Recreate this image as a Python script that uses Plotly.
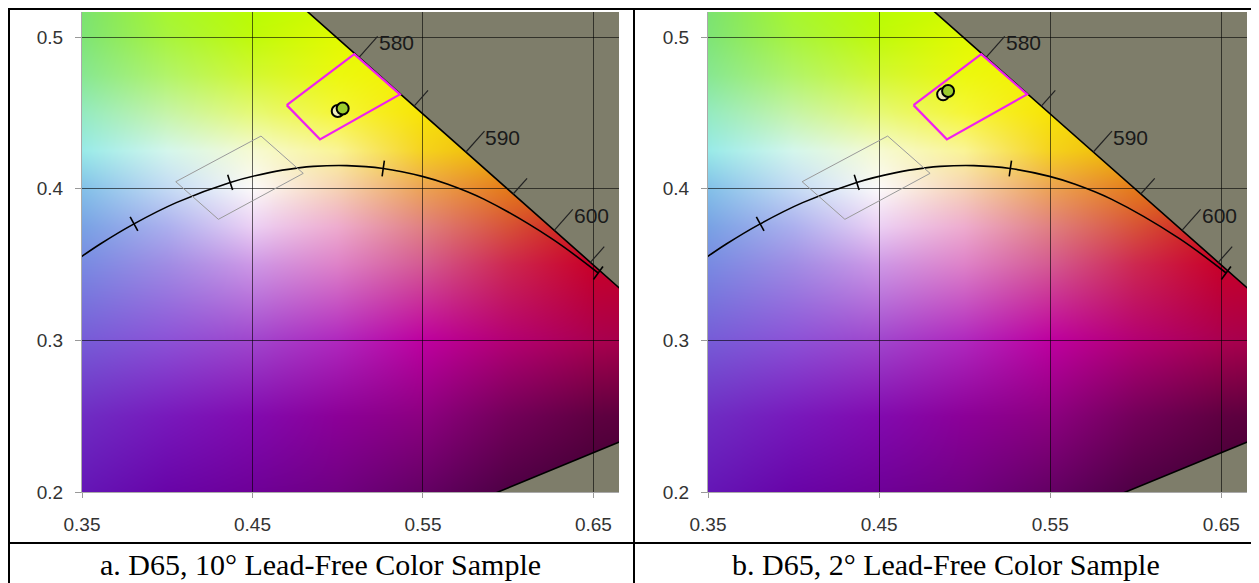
import zlib, struct, base64
import numpy as np
import plotly.graph_objects as go

# ---------------- data ----------------
SPEC_NM = [560, 565, 570, 575, 580, 585, 590, 595, 600, 605, 610, 615, 620, 630, 640, 650, 700]
SPEC_X = [0.3731, 0.4087, 0.4441, 0.4788, 0.5125, 0.5448, 0.5752, 0.6029, 0.6270, 0.6482,
          0.6658, 0.6801, 0.6915, 0.7079, 0.7190, 0.7260, 0.7347]
SPEC_Y = [0.6245, 0.5896, 0.5547, 0.5202, 0.4866, 0.4544, 0.4242, 0.3965, 0.3725, 0.3514,
          0.3340, 0.3197, 0.3083, 0.2920, 0.2809, 0.2740, 0.2653]
PURPLE_END_X = 0.1741
PURPLE_END_Y = 0.0050
SPEC_LABELLED = [580, 590, 600]
SPEC_TICKED = [585, 595, 605]

PLANCK_T = [5000, 4500, 4000, 3500, 3000, 2700, 2500, 2400, 2200, 2000, 1800, 1667, 1500, 1200, 1000]
PLANCK_X = [0.3451, 0.3607, 0.3805, 0.4053, 0.4369, 0.4599, 0.4770, 0.4857, 0.5054, 0.5267,
            0.5496, 0.5646, 0.5857, 0.6251, 0.6528]
PLANCK_Y = [0.3516, 0.3635, 0.3768, 0.3908, 0.4041, 0.4106, 0.4137, 0.4147, 0.4152, 0.4133,
            0.4081, 0.4029, 0.3931, 0.3674, 0.3444]
PLANCK_TICK_T = [4000, 3000, 2000, 1000]

BOX_X = [0.4701, 0.5097, 0.5365, 0.4896]
BOX_Y = [0.4551, 0.4887, 0.4622, 0.4325]
QUAD_X = [0.4050, 0.4550, 0.4798, 0.4300]
QUAD_Y = [0.4046, 0.4347, 0.4101, 0.3798]

A_SAMPLE_X = [0.5000, 0.5029]
A_SAMPLE_Y = [0.4512, 0.4529]
B_SAMPLE_X = [0.4874, 0.4903]
B_SAMPLE_Y = [0.4622, 0.4644]

X_TICKS = [0.35, 0.45, 0.55, 0.65]
Y_TICKS = [0.2, 0.3, 0.4, 0.5]
CAPTIONS = ["a. D65, 10\u00b0 Lead-Free Color Sample", "b. D65, 2\u00b0 Lead-Free Color Sample"]

BG_X = [0.35, 0.40, 0.45, 0.50, 0.55, 0.60, 0.65, 0.70]
BG_Y = [0.525, 0.50, 0.475, 0.45, 0.425, 0.40, 0.375, 0.35, 0.30, 0.25, 0.20]
BG_COLORS = [
    [(122, 225, 110), (165, 248, 40), (182, 252, 0), (205, 250, 0), (225, 245, 0), (235, 235, 0), (240, 225, 0), (240, 215, 0)],
    [(126, 228, 118), (168, 244, 62), (192, 250, 10), (225, 250, 0), (240, 245, 0), (245, 230, 0), (245, 215, 0), (245, 200, 0)],
    [(135, 231, 145), (178, 244, 105), (210, 248, 50), (236, 248, 15), (245, 240, 0), (245, 220, 0), (245, 200, 0), (245, 190, 0)],
    [(148, 234, 192), (198, 244, 168), (230, 249, 118), (246, 246, 55), (247, 228, 5), (242, 205, 0), (240, 185, 0), (238, 170, 0)],
    [(152, 234, 232), (212, 246, 236), (246, 250, 210), (250, 244, 150), (245, 210, 30), (238, 180, 0), (235, 160, 0), (232, 145, 0)],
    [(130, 192, 232), (195, 218, 244), (252, 250, 250), (246, 210, 180), (236, 162, 85), (228, 122, 25), (222, 100, 0), (220, 90, 0)],
    [(120, 162, 228), (172, 176, 238), (236, 208, 244), (238, 172, 206), (224, 128, 128), (215, 82, 55), (205, 20, 20), (200, 15, 20)],
    [(120, 138, 226), (160, 140, 228), (206, 152, 230), (222, 130, 200), (212, 90, 145), (205, 40, 80), (200, 0, 40), (190, 0, 40)],
    [(118, 92, 215), (140, 82, 215), (160, 70, 205), (176, 40, 190), (190, 0, 160), (180, 0, 115), (170, 0, 80), (160, 0, 65)],
    [(110, 45, 195), (120, 25, 188), (130, 10, 175), (140, 0, 152), (140, 0, 128), (115, 0, 90), (95, 0, 65), (85, 0, 55)],
    [(100, 22, 182), (104, 4, 168), (110, 0, 152), (112, 0, 130), (100, 0, 100), (78, 0, 68), (62, 0, 52), (55, 0, 45)],
]
OUTSIDE_RGB = (126, 125, 106)

# ---------------- geometry (screen pixels of the reference, page has an 8px body margin) ----------------
FIG_W, FIG_H = 1259, 583
OFF = 8
XR = [0.35, 0.665]
YR = [0.2, 0.5165]
XDOM_A = [(82 - OFF) / FIG_W, (619 - OFF) / FIG_W]
XDOM_B = [(708 - OFF) / FIG_W, (1247 - OFF) / FIG_W]
YDOM = [1 - (492 - OFF) / FIG_H, 1 - (12 - OFF) / FIG_H]
SX = (XDOM_A[1] - XDOM_A[0]) * FIG_W / (XR[1] - XR[0])
SY = (YDOM[1] - YDOM[0]) * FIG_H / (YR[1] - YR[0])


def background_png():
    w, h = 540, 480
    xg = XR[0] + (np.arange(w) + 0.5) * (XR[1] - XR[0]) / w
    yg = YR[1] - (np.arange(h) + 0.5) * (YR[1] - YR[0]) / h
    X, Y = np.meshgrid(xg, yg)
    xs = np.array(BG_X)
    ys = np.array(BG_Y)[::-1]
    C = np.array(BG_COLORS, float)[::-1]
    fx = np.interp(X, xs, np.arange(len(xs)))
    fy = np.interp(Y, ys, np.arange(len(ys)))
    x0 = np.clip(np.floor(fx).astype(int), 0, len(xs) - 2)
    y0 = np.clip(np.floor(fy).astype(int), 0, len(ys) - 2)
    tx = (fx - x0)[..., None]
    ty = (fy - y0)[..., None]
    col = (C[y0, x0] * (1 - tx) * (1 - ty) + C[y0, x0 + 1] * tx * (1 - ty)
           + C[y0 + 1, x0] * (1 - tx) * ty + C[y0 + 1, x0 + 1] * tx * ty)
    xloc = np.interp(Y, np.array(SPEC_Y)[::-1], np.array(SPEC_X)[::-1])
    ypur = PURPLE_END_Y + (X - PURPLE_END_X) * (SPEC_Y[-1] - PURPLE_END_Y) / (SPEC_X[-1] - PURPLE_END_X)
    inside = (X < xloc) & (Y > ypur)
    col[~inside] = OUTSIDE_RGB
    rgb = np.ascontiguousarray(np.clip(np.round(col), 0, 255).astype(np.uint8))
    raw = b''.join(b'\x00' + rgb[r].tobytes() for r in range(h))

    def chunk(tag, data):
        return struct.pack('>I', len(data)) + tag + data + struct.pack('>I', zlib.crc32(tag + data) & 0xffffffff)
    png = (b'\x89PNG\r\n\x1a\n' + chunk(b'IHDR', struct.pack('>IIBBBBB', w, h, 8, 2, 0, 0, 0))
           + chunk(b'IDAT', zlib.compress(raw, 9)) + chunk(b'IEND', b''))
    return 'data:image/png;base64,' + base64.b64encode(png).decode()


BG_URI = background_png()
fig = go.Figure()


def normal_px(xs, ys, i):
    i0 = max(i - 1, 0)
    i1 = min(i + 1, len(xs) - 1)
    tx = (xs[i1] - xs[i0]) * SX
    ty = -(ys[i1] - ys[i0]) * SY
    n = np.hypot(tx, ty)
    return ty / n, -tx / n


def add_panel(xa, ya, sample_x, sample_y):
    kw = dict(xaxis=xa, yaxis=ya, showlegend=False, hoverinfo='skip')
    fig.add_trace(go.Scatter(x=SPEC_X + [PURPLE_END_X], y=SPEC_Y + [PURPLE_END_Y], mode='lines',
                             line=dict(color='black', width=1.6), **kw))
    tx, ty = [], []
    for nm in SPEC_TICKED + SPEC_LABELLED:
        i = SPEC_NM.index(nm)
        nx, ny = normal_px(SPEC_X, SPEC_Y, i)
        L = 28 if nm in SPEC_LABELLED else 21
        ex, ey = SPEC_X[i] + nx * L / SX, SPEC_Y[i] - ny * L / SY
        tx += [SPEC_X[i], ex, None]
        ty += [SPEC_Y[i], ey, None]
        if nm in SPEC_LABELLED:
            fig.add_annotation(x=ex, y=ey, xref=xa, yref=ya, text=str(nm), showarrow=False,
                               xanchor='left', yanchor='middle', xshift=-1, yshift=-6,
                               font=dict(family='Liberation Sans, Arial', size=21, color='#1a1a1a'))
    fig.add_trace(go.Scatter(x=tx, y=ty, mode='lines', line=dict(color='#222', width=1.2), **kw))
    fig.add_trace(go.Scatter(x=PLANCK_X, y=PLANCK_Y, mode='lines',
                             line=dict(color='black', width=1.6, shape='spline'), **kw))
    px_, py_ = [], []
    for T in PLANCK_TICK_T:
        i = PLANCK_T.index(T)
        nx, ny = normal_px(PLANCK_X, PLANCK_Y, i)
        h = 8
        px_ += [PLANCK_X[i] - nx * h / SX, PLANCK_X[i] + nx * h / SX, None]
        py_ += [PLANCK_Y[i] + ny * h / SY, PLANCK_Y[i] - ny * h / SY, None]
    fig.add_trace(go.Scatter(x=px_, y=py_, mode='lines', line=dict(color='black', width=1.6), **kw))
    fig.add_trace(go.Scatter(x=QUAD_X + QUAD_X[:1], y=QUAD_Y + QUAD_Y[:1], mode='lines',
                             line=dict(color='#9a9a9a', width=1), **kw))
    fig.add_trace(go.Scatter(x=BOX_X + BOX_X[:1], y=BOX_Y + BOX_Y[:1], mode='lines',
                             line=dict(color='#f020f0', width=2.2), **kw))
    fig.add_trace(go.Scatter(x=sample_x, y=sample_y, mode='markers',
                             marker=dict(size=12, color=['#f0eeb8', '#9ccc2c'],
                                         line=dict(color='black', width=2)), **kw))


add_panel('x', 'y', A_SAMPLE_X, A_SAMPLE_Y)
add_panel('x2', 'y2', B_SAMPLE_X, B_SAMPLE_Y)

axis_common = dict(range=XR, tickvals=X_TICKS, ticktext=[f'{v:.2f}' for v in X_TICKS],
                   showgrid=True, gridcolor='rgba(0,0,0,0.6)', gridwidth=1, zeroline=False,
                   ticks='outside', ticklen=5, tickcolor='#999', showline=True, linecolor='#aaa',
                   linewidth=1, tickfont=dict(family='Liberation Sans, Arial', size=19, color='#333'),
                   ticklabelstandoff=10, fixedrange=True, automargin=False)
yaxis_common = dict(range=YR, tickvals=Y_TICKS, ticktext=[f'{v:.1f}' for v in Y_TICKS],
                    showgrid=True, gridcolor='rgba(0,0,0,0.6)', gridwidth=1, zeroline=False,
                    ticks='outside', ticklen=6, tickcolor='#999', showline=True, linecolor='#aaa',
                    linewidth=1, tickfont=dict(family='Liberation Sans, Arial', size=19, color='#333'),
                    ticklabelstandoff=8, domain=YDOM, fixedrange=True, automargin=False)

fig.update_layout(
    width=FIG_W, height=FIG_H, margin=dict(l=0, r=0, t=0, b=0, pad=0),
    paper_bgcolor='white', plot_bgcolor='white', showlegend=False,
    xaxis=dict(domain=XDOM_A, anchor='y', **axis_common),
    yaxis=dict(anchor='x', **yaxis_common),
    xaxis2=dict(domain=XDOM_B, anchor='y2', **axis_common),
    yaxis2=dict(anchor='x2', **yaxis_common),
    images=[dict(source=BG_URI, xref=xr, yref=yr, x=XR[0], y=YR[1], sizex=XR[1] - XR[0],
                 sizey=YR[1] - YR[0], sizing='stretch', xanchor='left', yanchor='top', layer='below')
            for xr, yr in (('x', 'y'), ('x2', 'y2'))],
)


def px(v):
    return (v - OFF) / FIG_W


def py(v):
    return 1 - (v - OFF) / FIG_H


line_kw = dict(type='line', xref='paper', yref='paper', line=dict(color='black', width=2))
fig.add_shape(x0=px(8), x1=px(1258), y0=py(9), y1=py(9), **line_kw)
fig.add_shape(x0=px(9), x1=px(9), y0=py(8), y1=py(600), **line_kw)
fig.add_shape(x0=px(634), x1=px(634), y0=py(8), y1=py(600), **line_kw)
fig.add_shape(x0=px(1257.5), x1=px(1257.5), y0=py(8), y1=py(600), **line_kw)
fig.add_shape(x0=px(8), x1=px(1258), y0=py(543), y1=py(543), **line_kw)

for cap, cx in zip(CAPTIONS, [(7 + 634) / 2, (634 + 1257) / 2]):
    fig.add_annotation(x=px(cx), y=py(564), xref='paper', yref='paper', text=cap, showarrow=False,
                       xanchor='center', yanchor='middle',
                       font=dict(family='Liberation Serif, Times New Roman', size=30, color='black'))

fig.write_html('out.html')
